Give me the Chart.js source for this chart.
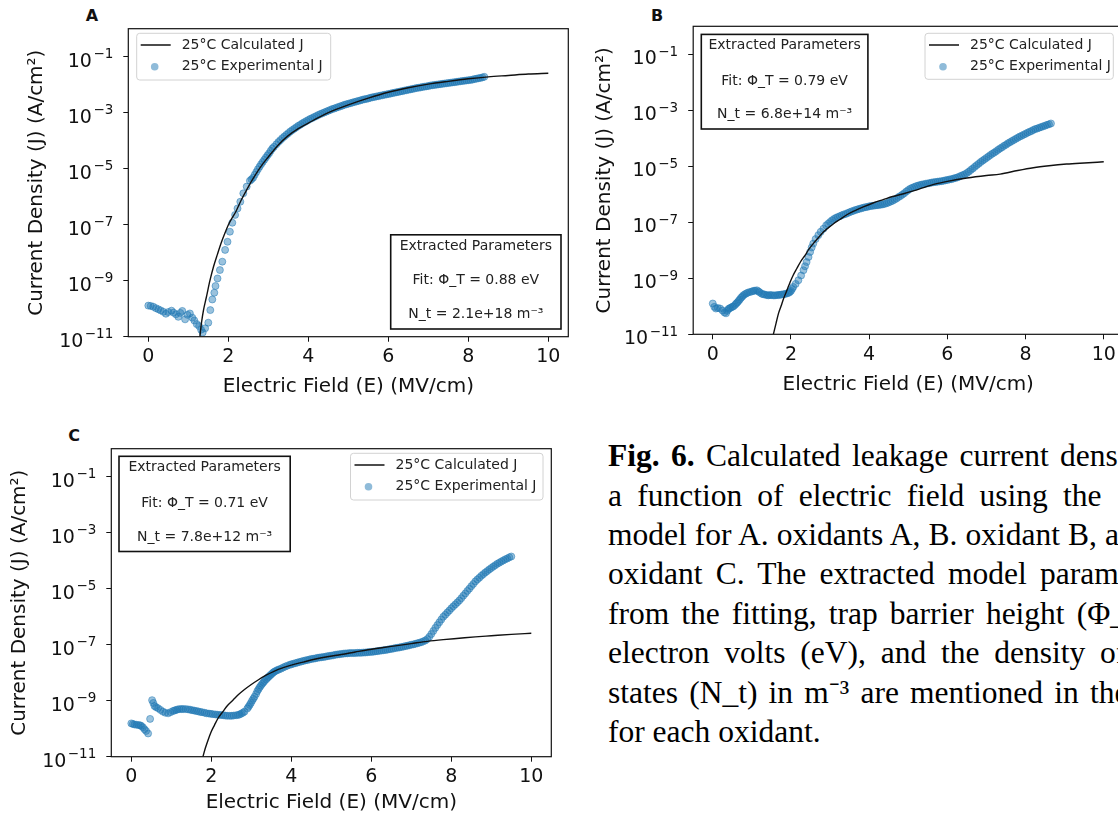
<!DOCTYPE html>
<html>
<head>
<meta charset="utf-8">
<script src="https://cdn.jsdelivr.net/npm/chart.js@4.4.1/dist/chart.umd.min.js"></script>
<style>
  html, body { margin: 0; padding: 0; background: #fff; }
  body { width: 1118px; height: 825px; overflow: hidden; position: relative; }
  .panel { position: absolute; }
  .tag { position: absolute; font: bold 16px "DejaVu Sans", sans-serif; color: #111; transform: translate(-50%, -50%); }
  #caption { position: absolute; left: 608px; top: 436.2px; font-family: "Liberation Serif", "Times New Roman", serif;
             font-size: 31.5px; line-height: 39.4px; color: #000; white-space: nowrap; }
</style>
</head>
<body>
<div class="tag" style="left:92px;top:15px">A</div>
<div class="tag" style="left:657px;top:15px">B</div>
<div class="tag" style="left:74px;top:435px">C</div>

<div class="panel" style="left:0;top:0;width:580px;height:400px"><canvas id="chartA"></canvas></div>
<div class="panel" style="left:580px;top:0;width:560px;height:400px"><canvas id="chartB"></canvas></div>
<div class="panel" style="left:0;top:420px;width:580px;height:405px"><canvas id="chartC"></canvas></div>

<div id="caption">
  <div class="ln" data-x="1060"><b>Fig. 6.</b> Calculated leakage current <span class="last">density</span></div>
  <div class="ln" data-x="1063">a function of electric field using <span class="last">the</span></div>
  <div class="ln" data-x="1105">model for A. oxidants A, B. oxidant B, <span class="last">and</span></div>
  <div class="ln" data-x="1040">oxidant C. The extracted model <span class="last">parameters</span></div>
  <div class="ln" data-x="1076.7">from the fitting, trap barrier height <span class="last">(Φ_T)</span></div>
  <div class="ln" data-x="1100">electron volts (eV), and the density <span class="last">of</span></div>
  <div class="ln" data-x="1090">states (N_t) in m⁻³ are mentioned in <span class="last">the</span></div>
  <div class="ln">for each oxidant.</div>
</div>

<script>
// shared axis stuff
const yTickValues = [1e-11, 1e-9, 1e-7, 1e-5, 1e-3, 1e-1];
const yTickExps = ['−11', '−9', '−7', '−5', '−3', '−1'];
const xTickValues = [0, 2, 4, 6, 8, 10];
const seriesNames = ['25°C Calculated J', '25°C Experimental J'];

// panel A  (values are log10 of J)
const calcA_E = [1.29, 1.33, 1.38, 1.45, 1.54, 1.63, 1.73, 1.83, 1.93, 2.0, 2.1, 2.2, 2.33, 2.45, 2.6, 2.8, 3.0, 3.25, 3.5, 3.75, 4.0, 4.5, 5.0, 5.5, 6.0, 6.5, 7.0, 7.5, 8.0, 8.5, 9.0, 9.5, 10.0];
const calcA_logJ = [-11.0, -10.5, -10.05, -9.6, -9.0, -8.5, -8.05, -7.62, -7.25, -7.01, -6.75, -6.5, -6.1, -5.78, -5.4, -4.95, -4.58, -4.15, -3.82, -3.57, -3.37, -3.0, -2.72, -2.48, -2.27, -2.11, -1.98, -1.88, -1.79, -1.72, -1.67, -1.62, -1.59];
const expA_E = [0.00, 0.06, 0.125, 0.19, 0.25, 0.31, 0.375, 0.44, 0.50, 0.58, 0.63, 0.69, 0.75, 0.80, 0.85, 0.92, 0.98, 1.04, 1.10, 1.15, 1.21, 1.27, 1.32, 1.36, 1.42, 1.50, 1.55, 1.60, 1.65, 1.68, 1.73, 1.79, 1.85, 1.92, 1.98, 2.04, 2.10, 2.17, 2.23, 2.30, 2.375, 2.46, 2.54,
  2.58, 2.62, 2.66, 2.70, 2.74, 2.78, 2.82, 2.86, 2.90, 2.94, 2.98, 3.02, 3.06, 3.10, 3.14,
  3.20, 3.25, 3.30, 3.35, 3.40, 3.45, 3.50, 3.55, 3.60, 3.65, 3.70, 3.75, 3.80, 3.85, 3.90, 3.95, 4.00, 4.05, 4.10, 4.15, 4.20, 4.25, 4.30, 4.35, 4.40, 4.45, 4.50, 4.55, 4.60, 4.65, 4.70, 4.75, 4.80, 4.85, 4.90, 4.95,
  5.00, 5.05, 5.10, 5.15, 5.20, 5.25, 5.30, 5.35, 5.40, 5.45, 5.50, 5.55, 5.60, 5.65, 5.70, 5.75, 5.80, 5.85, 5.90, 5.95, 6.00, 6.05, 6.10, 6.15, 6.20, 6.25, 6.30, 6.35, 6.40, 6.45, 6.50, 6.55, 6.60, 6.65, 6.70, 6.75, 6.80, 6.85, 6.90, 6.95,
  7.00, 7.05, 7.10, 7.15, 7.20, 7.25, 7.30, 7.35, 7.40, 7.45, 7.50, 7.55, 7.60, 7.65, 7.70, 7.75, 7.80, 7.85, 7.90, 7.95, 8.00, 8.05, 8.10, 8.15, 8.20, 8.25, 8.30, 8.35, 8.40];
const expA_logJ = [-9.89, -9.90, -9.93, -9.98, -10.02, -10.06, -10.11, -10.18, -10.12, -10.07, -10.14, -10.20, -10.29, -10.15, -10.08, -10.38, -10.22, -10.17, -10.32, -10.42, -10.55, -10.62, -10.75, -10.85, -10.70, -10.50, -10.05, -9.67, -9.43, -9.19, -8.92, -8.62, -8.32, -7.90, -7.61, -7.25, -6.93, -6.65, -6.42, -6.18, -5.88, -5.64, -5.43,
  -5.38, -5.32, -5.22, -5.12, -5.02, -4.93, -4.84, -4.76, -4.68, -4.60, -4.52, -4.45, -4.36, -4.28, -4.22,
  -4.13, -4.05, -3.98, -3.91, -3.85, -3.79, -3.73, -3.67, -3.62, -3.57, -3.52, -3.47, -3.43, -3.38, -3.34, -3.30, -3.26, -3.22, -3.19, -3.15, -3.12, -3.08, -3.05, -3.02, -2.99, -2.96, -2.93, -2.90, -2.87, -2.85, -2.82, -2.80, -2.77, -2.75, -2.72, -2.70,
  -2.68, -2.66, -2.64, -2.62, -2.60, -2.58, -2.56, -2.54, -2.52, -2.51, -2.49, -2.47, -2.45, -2.44, -2.42, -2.41, -2.39, -2.38, -2.36, -2.35, -2.33, -2.32, -2.30, -2.29, -2.27, -2.26, -2.24, -2.23, -2.21, -2.20, -2.18, -2.17, -2.15, -2.14, -2.12, -2.11, -2.10, -2.08, -2.07, -2.06,
  -2.05, -2.03, -2.02, -2.01, -2.00, -1.99, -1.98, -1.97, -1.96, -1.95, -1.94, -1.93, -1.92, -1.91, -1.90, -1.89, -1.88, -1.87, -1.86, -1.85, -1.84, -1.83, -1.82, -1.80, -1.79, -1.77, -1.76, -1.74, -1.72];
const paramsA = ['Extracted Parameters', 'Fit: Φ_T = 0.88 eV', 'N_t = 2.1e+18 m⁻³'];

// panel B
const calcB_E = [1.55, 1.62, 1.68, 1.75, 1.81, 1.9, 1.98, 2.06, 2.15, 2.25, 2.36, 2.46, 2.57, 2.7, 2.83, 2.96, 3.09, 3.25, 3.43, 3.64, 3.85, 4.1, 4.36, 4.6, 4.88, 5.15, 5.39, 5.7, 6.0, 6.5, 7.0, 7.35, 7.8, 8.2, 8.6, 9.05, 9.5, 10.0];
const calcB_logJ = [-11.0, -10.6, -10.26, -9.98, -9.73, -9.42, -9.13, -8.88, -8.65, -8.4, -8.18, -7.96, -7.76, -7.55, -7.35, -7.19, -7.05, -6.9, -6.73, -6.58, -6.45, -6.31, -6.19, -6.08, -5.98, -5.87, -5.76, -5.63, -5.54, -5.42, -5.33, -5.28, -5.15, -5.05, -4.98, -4.92, -4.88, -4.84];
const expB_E = [0.00, 0.04, 0.08, 0.13, 0.19, 0.25, 0.30, 0.34, 0.37, 0.40, 0.43, 0.46, 0.50, 0.53, 0.57, 0.60, 0.63, 0.66, 0.69, 0.72, 0.75, 0.78, 0.82, 0.86, 0.90, 0.95, 1.00, 1.04, 1.08, 1.13, 1.17, 1.20, 1.25, 1.29, 1.33, 1.38, 1.42, 1.46, 1.50, 1.55, 1.59, 1.64, 1.68, 1.72, 1.76, 1.81, 1.85, 1.90, 1.94, 1.97, 2.00, 2.03,
  2.06, 2.12, 2.19, 2.26, 2.32, 2.36, 2.40, 2.45, 2.49, 2.53, 2.57, 2.63, 2.70, 2.76, 2.83,
  2.90, 2.95, 3.00, 3.05, 3.10, 3.15, 3.20, 3.25, 3.30, 3.35, 3.40, 3.45, 3.50, 3.55, 3.60, 3.65, 3.70, 3.75, 3.80, 3.85, 3.90, 3.95, 4.00, 4.05, 4.10, 4.15, 4.20, 4.25, 4.30, 4.35, 4.40, 4.45, 4.50, 4.55, 4.60, 4.65, 4.70, 4.75, 4.80, 4.85, 4.90, 4.95,
  5.00, 5.05, 5.10, 5.15, 5.20, 5.25, 5.30, 5.35, 5.40, 5.45, 5.50, 5.55, 5.60, 5.65, 5.70, 5.75, 5.80, 5.85, 5.90, 5.95, 6.00, 6.05, 6.10, 6.15, 6.20, 6.25, 6.30, 6.35, 6.40, 6.45, 6.50, 6.55, 6.60, 6.65, 6.70, 6.75, 6.80, 6.85, 6.90, 6.95,
  7.00, 7.05, 7.10, 7.15, 7.20, 7.25, 7.30, 7.35, 7.40, 7.45, 7.50, 7.55, 7.60, 7.65, 7.70, 7.75, 7.80, 7.85, 7.90, 7.95, 8.00, 8.05, 8.10, 8.15, 8.20, 8.25, 8.30, 8.35, 8.40, 8.45, 8.50, 8.55, 8.60, 8.65];
const expB_logJ = [-9.90, -10.02, -10.08, -10.06, -10.08, -10.15, -10.22, -10.25, -10.16, -10.10, -10.07, -10.05, -10.02, -10.00, -9.95, -9.90, -9.86, -9.81, -9.76, -9.70, -9.66, -9.61, -9.57, -9.54, -9.51, -9.49, -9.47, -9.45, -9.44, -9.43, -9.47, -9.50, -9.55, -9.57, -9.58, -9.60, -9.61, -9.60, -9.60, -9.61, -9.61, -9.60, -9.60, -9.59, -9.58, -9.57, -9.56, -9.54, -9.52, -9.49, -9.45, -9.38,
  -9.31, -9.20, -9.07, -8.90, -8.71, -8.57, -8.42, -8.24, -8.06, -7.90, -7.76, -7.60, -7.46, -7.34, -7.23,
  -7.11, -7.05, -6.99, -6.93, -6.88, -6.84, -6.81, -6.78, -6.75, -6.72, -6.70, -6.67, -6.64, -6.61, -6.59, -6.56, -6.54, -6.52, -6.50, -6.48, -6.46, -6.45, -6.43, -6.42, -6.41, -6.40, -6.39, -6.38, -6.37, -6.36, -6.34, -6.32, -6.29, -6.26, -6.23, -6.19, -6.15, -6.10, -6.06, -6.01, -5.96, -5.90,
  -5.85, -5.80, -5.77, -5.74, -5.71, -5.69, -5.67, -5.65, -5.64, -5.62, -5.61, -5.60, -5.58, -5.57, -5.56, -5.55, -5.54, -5.53, -5.52, -5.50, -5.49, -5.47, -5.46, -5.44, -5.42, -5.40, -5.37, -5.34, -5.31, -5.28, -5.24, -5.19, -5.13, -5.08, -5.02, -4.96, -4.91, -4.85, -4.80, -4.75,
  -4.70, -4.65, -4.60, -4.55, -4.51, -4.46, -4.41, -4.36, -4.32, -4.27, -4.23, -4.18, -4.14, -4.10, -4.06, -4.02, -3.98, -3.94, -3.91, -3.87, -3.84, -3.80, -3.77, -3.74, -3.70, -3.67, -3.65, -3.62, -3.60, -3.57, -3.55, -3.52, -3.50, -3.47];
const paramsB = ['Extracted Parameters', 'Fit: Φ_T = 0.79 eV', 'N_t = 6.8e+14 m⁻³'];

// panel C
const calcC_E = [1.79, 1.85, 1.92, 2.0, 2.08, 2.18, 2.29, 2.4, 2.54, 2.68, 2.83, 3.0, 3.17, 3.37, 3.58, 3.8, 4.0, 4.3, 4.58, 4.9, 5.25, 5.6, 5.92, 6.3, 6.6, 7.0, 7.4, 7.8, 8.2, 8.6, 9.0, 9.5, 10.0];
const calcC_logJ = [-11.0, -10.7, -10.4, -10.1, -9.87, -9.6, -9.39, -9.18, -8.98, -8.78, -8.6, -8.42, -8.26, -8.09, -7.94, -7.82, -7.73, -7.62, -7.52, -7.43, -7.35, -7.26, -7.18, -7.1, -7.04, -6.96, -6.88, -6.82, -6.77, -6.72, -6.68, -6.63, -6.59];
const expC_E = [0.00, 0.04, 0.08, 0.13, 0.18, 0.22, 0.25, 0.29, 0.33, 0.37, 0.42, 0.47, 0.52, 0.55, 0.58,
  0.62, 0.67, 0.73, 0.79, 0.85, 0.92, 0.98, 1.04, 1.08, 1.12, 1.16, 1.21, 1.26, 1.30, 1.36, 1.42, 1.47, 1.52, 1.57, 1.62, 1.67, 1.72, 1.77, 1.83, 1.88, 1.94, 1.99, 2.04, 2.10, 2.15, 2.20, 2.25, 2.30, 2.35, 2.40, 2.46, 2.51, 2.56, 2.62, 2.67, 2.71, 2.75, 2.79, 2.83,
  2.90, 2.93, 2.96, 2.99, 3.02, 3.05, 3.08, 3.12, 3.15, 3.18, 3.21, 3.24, 3.27, 3.30, 3.33, 3.37, 3.40, 3.43, 3.46, 3.49, 3.52, 3.55, 3.58, 3.62, 3.66, 3.70, 3.75, 3.80, 3.85, 3.90,
  3.96, 4.00, 4.05, 4.10, 4.15, 4.20, 4.25, 4.30, 4.35, 4.40, 4.45, 4.50, 4.55, 4.60, 4.65, 4.70, 4.75, 4.80, 4.85, 4.90, 4.95,
  5.00, 5.05, 5.10, 5.15, 5.20, 5.25, 5.30, 5.35, 5.40, 5.45, 5.50, 5.55, 5.60, 5.65, 5.70, 5.75, 5.80, 5.85, 5.90, 5.95, 6.00, 6.05, 6.10, 6.15, 6.20, 6.25, 6.30, 6.35, 6.40, 6.45, 6.50, 6.55, 6.60, 6.65, 6.70, 6.75, 6.80, 6.85, 6.90, 6.95,
  7.00, 7.05, 7.10, 7.15, 7.20, 7.25, 7.30, 7.35, 7.40, 7.45, 7.50, 7.55, 7.60, 7.65, 7.70, 7.75, 7.80, 7.85, 7.90, 7.95, 8.00, 8.05, 8.10, 8.15, 8.20, 8.25, 8.30, 8.35, 8.40, 8.45,
  8.50, 8.55, 8.60, 8.65, 8.70, 8.75, 8.80, 8.85, 8.90, 8.95, 9.00, 9.05, 9.10, 9.15, 9.20, 9.25, 9.30, 9.35, 9.40, 9.45, 9.50];
const expC_logJ = [-9.81, -9.83, -9.85, -9.86, -9.87, -9.88, -9.90, -9.95, -10.02, -10.08, -10.17, -9.65, -8.98, -9.08, -9.19,
  -9.23, -9.27, -9.33, -9.39, -9.43, -9.45, -9.41, -9.37, -9.35, -9.33, -9.31, -9.30, -9.30, -9.30, -9.30, -9.31, -9.32, -9.34, -9.35, -9.37, -9.38, -9.40, -9.41, -9.43, -9.45, -9.46, -9.47, -9.48, -9.49, -9.50, -9.51, -9.51, -9.52, -9.53, -9.54, -9.54, -9.54, -9.53, -9.52, -9.51, -9.49, -9.46, -9.43, -9.39,
  -9.28, -9.22, -9.15, -9.08, -9.00, -8.93, -8.86, -8.76, -8.66, -8.59, -8.52, -8.46, -8.40, -8.35, -8.30, -8.24, -8.19, -8.15, -8.11, -8.07, -8.03, -7.99, -7.96, -7.93, -7.90, -7.88, -7.85, -7.81, -7.78, -7.75,
  -7.72, -7.70, -7.68, -7.66, -7.64, -7.62, -7.60, -7.58, -7.56, -7.55, -7.53, -7.51, -7.50, -7.49, -7.47, -7.46, -7.45, -7.44, -7.43, -7.41, -7.40,
  -7.39, -7.38, -7.36, -7.35, -7.34, -7.33, -7.32, -7.31, -7.31, -7.30, -7.30, -7.30, -7.30, -7.29, -7.29, -7.29, -7.28, -7.28, -7.27, -7.26, -7.26, -7.25, -7.24, -7.23, -7.22, -7.21, -7.20, -7.19, -7.18, -7.16, -7.15, -7.14, -7.12, -7.11, -7.10, -7.08, -7.07, -7.05, -7.04, -7.02,
  -7.00, -6.99, -6.97, -6.95, -6.93, -6.91, -6.88, -6.85, -6.80, -6.72, -6.62, -6.51, -6.40, -6.30, -6.20, -6.10, -6.00, -5.93, -5.85, -5.78, -5.70, -5.63, -5.56, -5.49, -5.42, -5.34, -5.25, -5.17, -5.08, -5.00,
  -4.91, -4.83, -4.74, -4.67, -4.61, -4.54, -4.48, -4.42, -4.37, -4.31, -4.26, -4.21, -4.16, -4.11, -4.07, -4.03, -3.99, -3.95, -3.92, -3.88, -3.85];
const paramsC = ['Extracted Parameters', 'Fit: Φ_T = 0.71 eV', 'N_t = 7.8e+12 m⁻³'];

Chart.defaults.font.family = '"DejaVu Sans", sans-serif';
Chart.defaults.color = '#111';

function toPoints(E, logJ) {
  return E.map((x, i) => ({ x: x, y: Math.pow(10, logJ[i]) }));
}

// frame, y tick labels with superscripts, legend and the parameter box
const decor = {
  id: 'decor',
  afterDraw(chart, args, o) {
    const ctx = chart.ctx, a = chart.chartArea;
    ctx.save();
    ctx.strokeStyle = '#111';
    ctx.lineWidth = 1.2;
    ctx.strokeRect(a.left, a.top, a.right - a.left, a.bottom - a.top);

    // 10^n labels, exponent raised and smaller like mathtext
    const ys = chart.scales.y;
    ctx.fillStyle = '#111';
    ctx.textAlign = 'right';
    ctx.textBaseline = 'alphabetic';
    yTickValues.forEach((v, i) => {
      const py = ys.getPixelForValue(v);
      const xr = a.left - 15;
      ctx.font = '13.5px "DejaVu Sans"';
      const ew = ctx.measureText(yTickExps[i]).width;
      ctx.fillText(yTickExps[i], xr, py + 1.7);
      ctx.font = '19px "DejaVu Sans"';
      ctx.fillText('10', xr - ew - 1.5, py + 10);
    });

    // legend
    const L = o.legend;
    const lx = L.right != null ? a.right - L.right - L.w : a.left + L.left;
    const ly = a.top + L.top;
    ctx.beginPath();
    ctx.roundRect(lx, ly, L.w, L.h, 3);
    ctx.fillStyle = 'rgba(255,255,255,0.8)';
    ctx.fill();
    ctx.strokeStyle = '#d2d2d2';
    ctx.lineWidth = 1;
    ctx.stroke();
    ctx.beginPath();
    ctx.moveTo(lx + 4, ly + 11.7);
    ctx.lineTo(lx + 34, ly + 11.7);
    ctx.strokeStyle = '#111';
    ctx.lineWidth = 1.5;
    ctx.stroke();
    ctx.beginPath();
    ctx.arc(lx + 18, ly + 33.4, 3.8, 0, Math.PI * 2);
    ctx.fillStyle = 'rgba(31,119,180,0.5)';
    ctx.fill();
    ctx.font = '14px "DejaVu Sans"';
    ctx.fillStyle = '#222';
    ctx.textBaseline = 'middle';
    ctx.textAlign = 'left';
    ctx.fillText(seriesNames[0], lx + 45, ly + 11.7);
    ctx.fillText(seriesNames[1], lx + 45, ly + 33.4);

    // extracted parameters box
    const P = o.params;
    const px = a.left + P.left, py = a.top + P.top;
    ctx.fillStyle = '#fff';
    ctx.fillRect(px, py, P.w, P.h);
    ctx.strokeStyle = '#111';
    ctx.lineWidth = 1.6;
    ctx.strokeRect(px, py, P.w, P.h);
    ctx.fillStyle = '#222';
    ctx.textAlign = 'center';
    o.text.forEach((t, i) => ctx.fillText(t, px + P.w / 2, py + P.rows[i]));
    ctx.restore();
  }
};

function buildChart(id, p) {
  const ctx = document.getElementById(id).getContext('2d');
  return new Chart(ctx, {
    type: 'scatter',
    data: {
      datasets: [{
        type: 'line',
        label: seriesNames[0],
        data: toPoints(p.calcE, p.calcLogJ),
        borderColor: '#111',
        borderWidth: 1.4,
        pointRadius: 0,
        cubicInterpolationMode: 'monotone',
        fill: false
      }, {
        type: 'scatter',
        label: seriesNames[1],
        data: toPoints(p.expE, p.expLogJ),
        backgroundColor: 'rgba(31,119,180,0.45)',
        borderColor: 'rgba(31,119,180,0.5)',
        borderWidth: 1,
        pointRadius: 3.5
      }]
    },
    options: {
      responsive: true,
      maintainAspectRatio: false,
      animation: false,
      events: [],
      layout: { padding: p.pad, autoPadding: false },
      plugins: {
        legend: { display: false },
        tooltip: { enabled: false },
        decor: { legend: p.legend, params: p.params, text: p.text }
      },
      scales: {
        x: {
          type: 'linear', min: -0.5, max: 10.5,
          afterBuildTicks: s => { s.ticks = xTickValues.map(v => ({ value: v })); },
          afterFit: s => { s.height = p.xH; },
          ticks: { font: { size: 19 }, color: '#111', padding: 4, maxRotation: 0, autoSkip: false },
          grid: { display: true, drawOnChartArea: false, drawTicks: true, tickLength: 5, color: '#111', lineWidth: 1 },
          border: { display: false },
          title: { display: true, text: 'Electric Field (E) (MV/cm)', font: { size: 20 }, color: '#111', padding: { top: 0, bottom: p.xTitlePad } }
        },
        y: {
          type: 'logarithmic', min: 1e-11, max: 1,
          afterBuildTicks: s => { s.ticks = yTickValues.map(v => ({ value: v })); },
          afterFit: s => { s.width = p.yW; },
          ticks: { display: false, autoSkip: false },
          grid: { display: true, drawOnChartArea: false, drawTicks: true, tickLength: 5, color: '#111', lineWidth: 1 },
          border: { display: false },
          title: { display: true, text: 'Current Density (J) (A/cm²)', font: { size: 20 }, color: '#111', padding: { top: p.yTitlePad, bottom: 0 } }
        }
      }
    },
    plugins: [decor]
  });
}

buildChart('chartA', {
  calcE: calcA_E, calcLogJ: calcA_logJ, expE: expA_E, expLogJ: expA_logJ, text: paramsA,
  pad: { left: 0, top: 28.7, right: 11.7, bottom: 0 }, yW: 128.3, xH: 63.3, yTitlePad: 25, xTitlePad: 1,
  legend: { left: 8.4, top: 4.6, w: 194, h: 46.7 },
  params: { left: 262.4, top: 206.1, w: 170.3, h: 94.2, rows: [11.5, 45.9, 79.5] }
});
buildChart('chartB', {
  calcE: calcB_E, calcLogJ: calcB_logJ, expE: expB_E, expLogJ: expB_logJ, text: paramsB,
  pad: { left: 0, top: 26.3, right: 16.7, bottom: 0 }, yW: 113.2, xH: 65.7, yTitlePad: 13, xTitlePad: 3,
  legend: { right: 10, top: 7, w: 188.3, h: 46 },
  params: { left: 8.1, top: 8.1, w: 166.6, h: 94.6, rows: [11.2, 46.5, 80.4] }
});
buildChart('chartC', {
  calcE: calcC_E, calcLogJ: calcC_logJ, expE: expC_E, expLogJ: expC_logJ, text: paramsC,
  pad: { left: 0, top: 28.7, right: 28.7, bottom: 0 }, yW: 111.3, xH: 68.3, yTitlePad: 8, xTitlePad: 10,
  legend: { right: 8.3, top: 4.6, w: 192.5, h: 46.7 },
  params: { left: 7.7, top: 7.6, w: 171.2, h: 95.2, rows: [11.4, 46.7, 80.6] }
});

// justify the caption lines so the last visible word lands where it does in the figure
document.querySelectorAll('#caption .ln[data-x]').forEach(ln => {
  const last = ln.querySelector('.last');
  const before = ln.textContent.slice(0, ln.textContent.lastIndexOf(last.textContent));
  const gaps = (before.trim().match(/ +/g) || []).length + 1;
  const shift = parseFloat(ln.dataset.x) - last.getBoundingClientRect().left;
  ln.style.wordSpacing = (shift / gaps) + 'px';
});
</script>
</body>
</html>
